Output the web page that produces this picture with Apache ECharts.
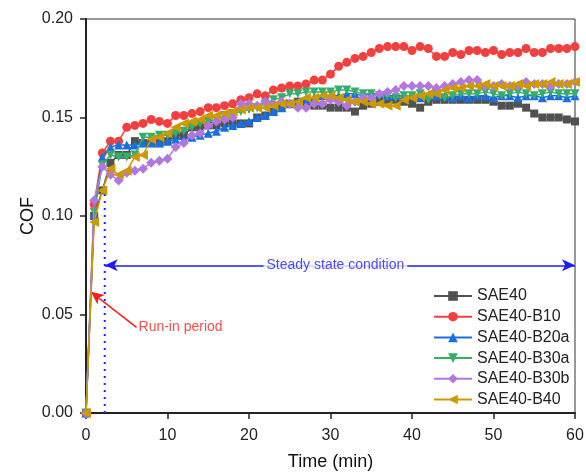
<!DOCTYPE html>
<html><head><meta charset="utf-8">
<script src="https://cdn.jsdelivr.net/npm/echarts@6/dist/echarts.min.js"></script>
<style>html,body{margin:0;padding:0;background:#fff}#c{width:586px;height:474px}</style>
</head><body><div id="c"></div>
<script>
const time = Array.from({length:61},(_,i)=>i);
const xTicks = [0,10,20,30,40,50,60];
const yTicks = [0.00,0.05,0.10,0.15,0.20];
const seriesNames = ['SAE40','SAE40-B10','SAE40-B20a','SAE40-B30a','SAE40-B30b','SAE40-B40'];
const sae40 = [0,0.100,0.113,0.127,0.131,0.131,0.138,0.137,0.137,0.137,0.138,0.141,0.141,0.145,0.145,0.146,0.146,0.147,0.147,0.147,0.147,0.150,0.151,0.153,0.155,0.157,0.158,0.157,0.156,0.156,0.155,0.155,0.155,0.153,0.156,0.157,0.158,0.159,0.159,0.158,0.157,0.155,0.158,0.159,0.159,0.159,0.159,0.159,0.159,0.159,0.158,0.156,0.156,0.157,0.155,0.152,0.150,0.150,0.150,0.149,0.148];
const b10 = [0,0.106,0.132,0.138,0.138,0.145,0.146,0.147,0.149,0.148,0.147,0.151,0.151,0.152,0.153,0.155,0.155,0.156,0.157,0.159,0.160,0.162,0.161,0.164,0.165,0.166,0.166,0.167,0.169,0.169,0.172,0.176,0.178,0.180,0.181,0.183,0.185,0.186,0.186,0.186,0.184,0.186,0.185,0.181,0.181,0.183,0.182,0.184,0.184,0.183,0.184,0.182,0.183,0.183,0.185,0.183,0.183,0.185,0.185,0.185,0.186];
const b20a = [0,0.101,0.130,0.135,0.136,0.136,0.136,0.137,0.137,0.137,0.138,0.139,0.139,0.140,0.141,0.142,0.143,0.145,0.146,0.147,0.148,0.150,0.151,0.153,0.155,0.157,0.158,0.159,0.160,0.161,0.161,0.161,0.162,0.162,0.161,0.162,0.162,0.161,0.161,0.161,0.161,0.160,0.161,0.161,0.161,0.160,0.161,0.160,0.161,0.161,0.160,0.161,0.161,0.160,0.161,0.161,0.160,0.161,0.161,0.160,0.161];
const b30a = [0,0.102,0.126,0.131,0.130,0.130,0.131,0.140,0.140,0.141,0.141,0.142,0.143,0.145,0.147,0.148,0.149,0.151,0.152,0.153,0.154,0.155,0.157,0.159,0.160,0.162,0.162,0.163,0.163,0.163,0.163,0.164,0.164,0.163,0.162,0.162,0.161,0.161,0.160,0.161,0.161,0.162,0.159,0.162,0.160,0.161,0.162,0.162,0.162,0.163,0.162,0.161,0.162,0.163,0.162,0.161,0.162,0.163,0.162,0.162,0.162];
const b30b = [0,0.108,0.125,0.121,0.118,0.122,0.123,0.124,0.127,0.128,0.129,0.135,0.137,0.141,0.142,0.146,0.148,0.149,0.150,0.157,0.157,0.156,0.158,0.157,0.158,0.157,0.155,0.155,0.157,0.157,0.159,0.158,0.156,0.158,0.160,0.160,0.162,0.163,0.164,0.166,0.166,0.166,0.166,0.165,0.166,0.167,0.168,0.169,0.169,0.166,0.166,0.167,0.166,0.166,0.168,0.167,0.167,0.166,0.167,0.167,0.168];
const b40 = [0,0.097,0.113,0.124,0.121,0.123,0.130,0.131,0.139,0.140,0.142,0.145,0.147,0.148,0.149,0.151,0.151,0.152,0.153,0.154,0.155,0.155,0.155,0.156,0.157,0.157,0.158,0.160,0.160,0.161,0.161,0.160,0.159,0.158,0.158,0.157,0.157,0.156,0.156,0.159,0.160,0.161,0.162,0.162,0.164,0.165,0.165,0.166,0.166,0.167,0.166,0.166,0.166,0.167,0.166,0.167,0.167,0.168,0.167,0.167,0.168];
const allValues = [sae40,b10,b20a,b30a,b30b,b40];
const colors = ['#515151','#F14040','#1A6FDF','#37AD6B','#B177DE','#CC9900'];
const symbols = ['rect','circle','triangle','triangle','diamond','triangle'];
const rotations = [0,0,0,180,0,90];
const sizes = [8,9,9,9,10,10];
// annotations
const steadyStart = 2.3, steadyEnd = 60, steadyY = 0.075, steadyTextX = 30.6;
const dottedTop = 0.113;
const runInHead = [0.6, 0.0615], runInTail = [6.2, 0.0435];

const FONT = 'Liberation Sans, Arial, sans-serif';
const chart = echarts.init(document.getElementById('c'), null, {renderer:'canvas'});
const series = allValues.map((vals,i)=>({
  name: seriesNames[i], type:'line', data: time.map((t,j)=>[t,vals[j]]),
  symbol: symbols[i], symbolRotate: rotations[i], symbolSize: sizes[i],
  showAllSymbol: true, clip: true,
  itemStyle:{color: colors[i]}, lineStyle:{color: colors[i], width:1.5},
  emphasis:{disabled:true}, z: 2+i
}));
series.push({
  type:'line', data:[[steadyStart,0],[steadyStart,dottedTop]], symbol:'none', silent:true,
  lineStyle:{color:'#2020ff', width:2, type:[2,5]}, z:1,
  markLine:{
    silent:true, symbol:['arrow','arrow'], symbolSize:[9,13], label:{show:false},
    lineStyle:{color:'#1c1cff', width:1.5, type:'solid'},
    data:[[{coord:[steadyStart,steadyY]},{coord:[steadyEnd,steadyY]}]]
  }
});
series.push({
  type:'line', data:[], silent:true,
  markLine:{
    silent:true, symbol:['none','arrow'], symbolSize:[9,13], label:{show:false},
    lineStyle:{color:'#ff1c1c', width:1.5, type:'solid'},
    data:[[{coord:runInTail},{coord:runInHead}]]
  }
});
series.push({
  type:'scatter', silent:true, symbolSize:0, z:20,
  data:[[steadyTextX, steadyY]],
  label:{show:true, position:'inside', formatter:'Steady state condition', color:'#2020ff',
    fontFamily:FONT, fontSize:14, backgroundColor:'#fff', padding:[2,3]}
});
series.push({
  type:'scatter', silent:true, symbolSize:0, z:20,
  data:[runInTail],
  label:{show:true, position:'right', distance:2, formatter:'Run-in period', color:'#ff2020',
    fontFamily:FONT, fontSize:14}
});

chart.setOption({
  animation:false,
  backgroundColor:'#fff',
  grid:{left:86, right:11, top:19, bottom:61, show:true, borderColor:'#333', borderWidth:1,
    containLabel:false, outerBoundsMode:'none'},
  legend:{
    data: seriesNames, orient:'vertical', left:428, top:283, itemWidth:38, itemHeight:12, itemGap:4.7,
    selectedMode:false, textStyle:{fontFamily:FONT, fontSize:16, color:'#222'}
  },
  xAxis:{
    type:'value', min:0, max:60, interval:10,
    name:'Time (min)', nameLocation:'middle', nameGap:40, nameMoveOverlap:false,
    nameTextStyle:{fontFamily:FONT, fontSize:18, color:'#111'},
    axisLine:{show:true, lineStyle:{color:'#222', width:2}},
    axisTick:{show:true, inside:false, length:6, lineStyle:{color:'#222', width:1.5}},
    axisLabel:{fontFamily:FONT, fontSize:16, color:'#222', margin:15},
    splitLine:{show:false}
  },
  yAxis:{
    type:'value', min:0, max:0.2, interval:0.05,
    name:'COF', nameLocation:'middle', nameGap:49, nameMoveOverlap:false,
    nameTextStyle:{fontFamily:FONT, fontSize:18, color:'#111'},
    axisLine:{show:true, lineStyle:{color:'#222', width:2}},
    axisTick:{show:true, inside:false, length:6, lineStyle:{color:'#222', width:1.5}},
    axisLabel:{fontFamily:FONT, fontSize:16, color:'#222', margin:13, formatter:v=>v.toFixed(2)},
    splitLine:{show:false}
  },
  series: series
});
</script></body></html>
